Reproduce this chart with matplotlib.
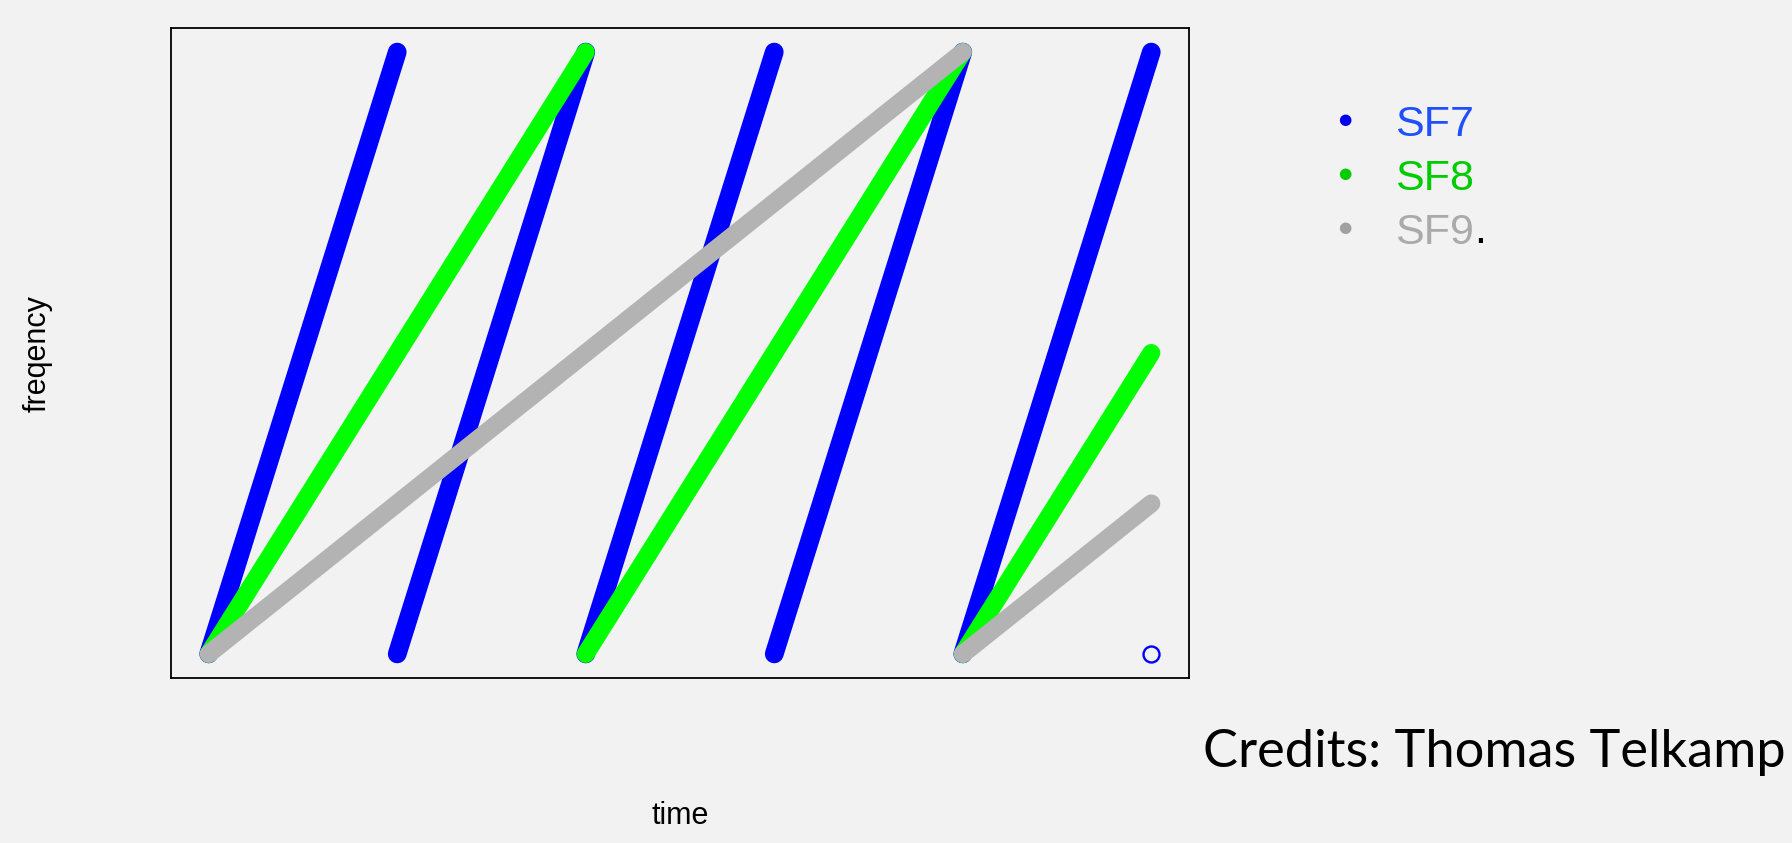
import matplotlib
matplotlib.use("Agg")
import matplotlib.pyplot as plt

# ---- data: chirp segments (time start/end, frequency start/end) ----
sf7_t0 = [0, 1, 2, 3, 4]
sf7_t1 = [1, 2, 3, 4, 5]
sf7_f0 = [0, 0, 0, 0, 0]
sf7_f1 = [1, 1, 1, 1, 1]
sf7_extra_t = [5]
sf7_extra_f = [0]

sf8_t0 = [0, 2, 4]
sf8_t1 = [2, 4, 5]
sf8_f0 = [0, 0, 0]
sf8_f1 = [1, 1, 0.5]

sf9_t0 = [0, 4]
sf9_t1 = [4, 5]
sf9_f0 = [0, 0]
sf9_f1 = [1, 0.25]

legend_labels = ["SF7", "SF8", "SF9"]
credits = "Credits: Thomas Telkamp"

BG = "#f2f2f2"
W, H = 1792, 843
fig = plt.figure(figsize=(W / 100, H / 100), dpi=100, facecolor=BG)
ax = fig.add_axes([171 / W, 1 - 678 / H, (1189 - 171) / W, (678 - 28) / H])
ax.set_facecolor(BG)

def draw(t0, t1, f0, f1, color, lw):
    for a, b, c, d in zip(t0, t1, f0, f1):
        ax.plot([a, b], [c, d], color=color, lw=lw, solid_capstyle="round")

draw(sf7_t0, sf7_t1, sf7_f0, sf7_f1, "#0000ff", 13.5)
ax.plot(sf7_extra_t, sf7_extra_f, "o", ms=11.5, mfc="none", mec="#0000ff", mew=1.7)
draw(sf8_t0, sf8_t1, sf8_f0, sf8_f1, "#00ff00", 13.0)
draw(sf9_t0, sf9_t1, sf9_f0, sf9_f1, "#b3b3b3", 13.0)

ax.set_xlim(-0.2, 5.2)
ax.set_ylim(-0.04, 1.04)
ax.set_xticks([])
ax.set_yticks([])
for s in ax.spines.values():
    s.set_linewidth(1.3)
    s.set_color("black")

fig.text(680 / W, 1 - 816 / H, "time", ha="center", va="center",
         fontsize=22, family="Liberation Sans")
fig.text(38 / W, 1 - 354 / H, "freqency", ha="center", va="center",
         rotation=90, fontsize=22, family="Liberation Sans")

# legend
bullet_colors = ["#0000ee", "#00cc00", "#a0a0a0"]
text_colors = ["#1f4fff", "#00cc00", "#aaaaaa"]
ys = [120, 174, 228]
for lab, bc, tc, y in zip(legend_labels, bullet_colors, text_colors, ys):
    fig.text(1345 / W, 1 - y / H, "\u25CF", color=bc, ha="center", va="center",
             fontsize=11, family="DejaVu Sans")
    t = fig.text(1395 / W, 1 - y / H, lab, color=tc, ha="left", va="center_baseline",
                 fontsize=31, family="Liberation Sans")
# period after SF9
fig.canvas.draw()
r = fig.canvas.get_renderer()
bb = t.get_window_extent(r)
fig.text(bb.x1 / W, 1 - (228 + 15) / H, ".", color="black", ha="left",
         va="baseline", fontsize=31, family="Liberation Sans")

ct = fig.text(1203 / W, 1 - 767 / H, credits, ha="left", va="baseline",
              fontsize=46, family="Lato", fontweight="normal", color="black")
fig.canvas.draw()
w = ct.get_window_extent(fig.canvas.get_renderer()).width
ct.set_fontsize(46 * 582 / w)

fig.savefig("out.png", dpi=100, facecolor=BG)
